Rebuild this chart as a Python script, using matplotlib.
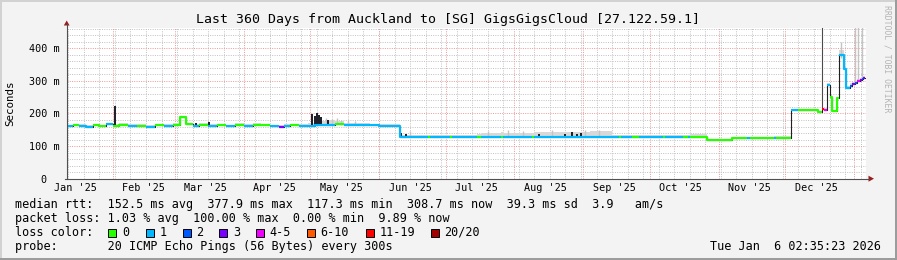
import matplotlib
matplotlib.use('Agg')
import matplotlib.pyplot as plt
import matplotlib.dates as mdates
from matplotlib.lines import Line2D
from matplotlib.patches import Rectangle, Polygon
import numpy as np
from datetime import datetime, timedelta

MONO = 'DejaVu Sans Mono'
plt.rcParams['font.family'] = [MONO]

# ---------------- data ----------------
title = 'Last 360 Days from Auckland to [SG] GigsGigsCloud [27.122.59.1]'
period_start = datetime(2025, 1, 11, 10, 0)
period_end = datetime(2026, 1, 6, 10, 0)
data_end = datetime(2026, 1, 6, 2, 35)

month_ticks = ['2025-01-15', '2025-02-15', '2025-03-15', '2025-04-15', '2025-05-15', '2025-06-15',
               '2025-07-15', '2025-08-15', '2025-09-15', '2025-10-15', '2025-11-15', '2025-12-15']
month_labels = ["Jan '25", "Feb '25", "Mar '25", "Apr '25", "May '25", "Jun '25",
                "Jul '25", "Aug '25", "Sep '25", "Oct '25", "Nov '25", "Dec '25"]
ytick_values = [0, 100, 200, 300, 400]
ytick_labels = ['0  ', '100 m', '200 m', '300 m', '400 m']

loss_labels = ['0', '1', '2', '3', '4-5', '6-10', '11-19', '20/20']
loss_colors = ['#26ff00', '#00b8ff', '#0059ff', '#7a00ff', '#f000ff', '#ff5a00', '#ff0000', '#a10000']

# median RTT (ms), step-held from each date; loss class index; top of smoke (ms)
med_dates = ['2025-01-11T10', '2025-01-14', '2025-01-17', '2025-01-20', '2025-01-23', '2025-01-26',
             '2025-01-29', '2025-02-01', '2025-02-04', '2025-02-08', '2025-02-12', '2025-02-16',
             '2025-02-20', '2025-02-24', '2025-02-28', '2025-03-03T06', '2025-03-06', '2025-03-09',
             '2025-03-12', '2025-03-16', '2025-03-20', '2025-03-24', '2025-03-28', '2025-04-01',
             '2025-04-05', '2025-04-09', '2025-04-13', '2025-04-17', '2025-04-19', '2025-04-22',
             '2025-04-26', '2025-04-30', '2025-05-03', '2025-05-08', '2025-05-12', '2025-05-16',
             '2025-05-20', '2025-05-24', '2025-05-28', '2025-06-01', '2025-06-10T10', '2025-06-23',
             '2025-06-24', '2025-07-03', '2025-07-04', '2025-07-15', '2025-07-17', '2025-07-26',
             '2025-07-27', '2025-08-09', '2025-08-10', '2025-08-22', '2025-09-04', '2025-09-14',
             '2025-09-17', '2025-09-18', '2025-09-23', '2025-09-26', '2025-10-07', '2025-10-08',
             '2025-10-15T22', '2025-10-18', '2025-10-19', '2025-10-27', '2025-11-07', '2025-11-14',
             '2025-11-15', '2025-11-26', '2025-11-27', '2025-12-03T16', '2025-12-07', '2025-12-15T18',
             '2025-12-17T12', '2025-12-18T12', '2025-12-19T16', '2025-12-21T04', '2025-12-22',
             '2025-12-24T12', '2025-12-25T10', '2025-12-27T12', '2025-12-28T10', '2025-12-30T06',
             '2025-12-31T06', '2026-01-01T12', '2026-01-02T12', '2026-01-03T12', '2026-01-04T12',
             '2026-01-05T06']
med_ms = [161, 164, 162, 160, 164, 161,
          167, 162, 165, 161, 163, 160,
          164, 162, 165, 190, 168, 163,
          165, 162, 164, 161, 165, 163,
          166, 164, 161, 159, 162, 164,
          161, 163, 166, 165, 167, 164,
          165, 166, 165, 163, 129, 129,
          129, 129, 129, 129, 129, 129,
          129, 129, 129, 129, 129, 129,
          129, 129, 129, 129, 129, 129,
          129, 129, 129, 120, 124.5, 124.5,
          124.5, 124.5, 124.5, 210, 210, 204,
          213, 212, 287, 252, 207,
          248, 378, 335, 279, 284,
          289, 293, 299, 303, 306,
          309]
med_loss = [1, 0, 1, 1, 0, 0,
            1, 0, 0, 1, 0, 1,
            0, 1, 0, 0, 0, 1,
            0, 1, 0, 1, 0, 1,
            0, 0, 1, 3, 1, 0,
            1, 1, 1, 1, 0, 1,
            1, 1, 1, 1, 1, 0,
            1, 0, 1, 0, 1, 0,
            1, 0, 1, 1, 1, 1,
            0, 1, 0, 1, 0, 1,
            0, 1, 0, 0, 0, 1,
            0, 1, 0, 1, 0, 0,
            6, 4, 1, 0, 0,
            0, 1, 1, 1, 2,
            3, 2, 4, 3, 2,
            3]
smoke_ms = [166, 169, 167, 165, 168, 166,
            172, 168, 170, 167, 169, 166,
            169, 168, 170, 193, 172, 168,
            170, 167, 169, 166, 170, 168,
            171, 169, 166, 164, 167, 169,
            167, 172, 178, 180, 178, 172,
            170, 170, 169, 168, 133, 133,
            133, 134, 134, 136, 140, 142,
            141, 140, 142, 143, 145, 134,
            134, 133, 133, 133, 133, 133,
            135, 135, 136, 123, 128, 128,
            128, 130, 130, 214, 214, 208,
            218, 216, 292, 256, 211,
            252, 395, 345, 285, 292,
            296, 300, 306, 309, 312,
            315]

# isolated smoke spikes: date, bottom (ms), top (ms), shade
spike_dates = ['2025-02-02', '2025-03-10T12', '2025-03-16T10', '2025-05-02', '2025-05-03', '2025-05-04',
               '2025-05-05', '2025-05-06', '2025-05-08', '2025-05-09', '2025-05-11', '2025-05-13',
               '2025-05-15', '2025-05-18', '2025-05-21', '2025-06-11', '2025-06-13', '2025-06-15',
               '2025-07-20', '2025-07-29', '2025-08-05', '2025-08-18', '2025-09-02', '2025-09-08',
               '2025-08-12', '2025-08-24', '2025-08-27', '2025-08-29', '2025-08-31',
               '2025-12-17T18', '2025-12-26', '2026-01-01T12', '2026-01-03', '2026-01-04T18']
spike_lo = [162, 165, 162, 166, 166, 166,
            166, 166, 165, 165, 166, 167,
            164, 165, 165, 129, 129, 129,
            129, 129, 129, 129, 129, 129,
            129, 129, 129, 129, 129,
            213, 370, 293, 303, 306]
spike_hi = [222, 171, 175, 197, 192, 200,
            194, 188, 187, 181, 184, 186,
            181, 179, 177, 141, 138, 145,
            146, 148, 147, 149, 150, 148,
            136, 138, 142, 136, 140,
            470, 420, 470, 470, 470]
spike_shade = ['dark', 'dark', 'dark', 'dark', 'dark', 'dark',
               'dark', 'dark', 'light', 'dark', 'light', 'light',
               'light', 'light', 'light', 'dark', 'dark', 'light',
               'light', 'light', 'light', 'light', 'light', 'light',
               'dark', 'dark', 'dark', 'dark', 'dark',
               'mid', 'light', 'light', 'light', 'light']

legend_rtt = 'median rtt:  152.5 ms avg  377.9 ms max  117.3 ms min  308.7 ms now  39.3 ms sd  3.9   am/s'
legend_loss = 'packet loss: 1.03 % avg  100.00 % max  0.00 % min  9.89 % now'
legend_color = 'loss color:'
legend_probe = 'probe:       20 ICMP Echo Pings (56 Bytes) every 300s'
stamp = 'Tue Jan  6 02:35:23 2026'
ylabel = 'Seconds'
watermark = 'RRDTOOL / TOBI OETIKER'

# ---------------- figure ----------------
W, H, DPI = 897, 260, 100
fig = plt.figure(figsize=(W / DPI, H / DPI), dpi=DPI)
fig.patch.set_facecolor('#f3f3f3')


def fx(x):
    return x / W


def fy(y):
    return 1 - y / H


L, R, T, B = 67, 866, 27.7, 178.7
ax = fig.add_axes([fx(L), fy(B), (R - L) / W, (B - T) / H])
ax.set_facecolor('white')
for s in ax.spines.values():
    s.set_visible(False)
ax.set_xlim(mdates.date2num(period_start), mdates.date2num(period_end))
ax.set_ylim(0, 463)

minor_c = '#c4c4c4'
major_c = '#ee9c9c'
dot = (0, (1, 1.3))
gl = 0.72
gkw = dict(lw=gl, ls=dot, antialiased=True)
d = datetime(2025, 1, 12)
while d < period_end:
    ax.axvline(mdates.date2num(d), color=minor_c, zorder=1, **gkw)
    d += timedelta(days=7)
for v in range(20, 463, 20):
    if v % 100:
        ax.axhline(v, color=minor_c, zorder=1, **gkw)
for v in ytick_values[1:]:
    ax.axhline(v, color=major_c, zorder=1.2, **gkw)
for y, m in [(2025, k) for k in range(2, 13)] + [(2026, 1)]:
    ax.axvline(mdates.date2num(datetime(y, m, 1)), color=major_c, zorder=1.2, **gkw)

# ---- data ----
t = mdates.date2num([datetime.fromisoformat(s) for s in med_dates] + [data_end])
v = np.array(med_ms, dtype=float)
cls = np.array(med_loss)
sm = np.array(smoke_ms, dtype=float)
xs = np.repeat(t, 2)[1:-1]
ys = np.repeat(v, 2)
ax.fill_between(xs, ys, np.repeat(sm, 2), color='#d8d8d8', lw=0, zorder=2)

shade_col = {'dark': '#1c1c26', 'mid': '#4a4a4a', 'light': '#c4c4c4'}
shade_lw = {'dark': 1.4, 'mid': 0.8, 'light': 1.0}
for ds, lo, hi, sh in zip(spike_dates, spike_lo, spike_hi, spike_shade):
    xd = mdates.date2num(datetime.fromisoformat(ds))
    ax.vlines(xd, lo, hi, color=shade_col[sh], lw=shade_lw[sh], zorder=2.5)

ax.plot(xs, ys, color='#202020', lw=0.8, zorder=3)
for c, col in enumerate(loss_colors):
    yc = np.where(cls == c, v, np.nan)
    if np.all(np.isnan(yc)):
        continue
    ax.plot(xs, np.repeat(yc, 2), color=col, lw=1.55, zorder=4, solid_capstyle='butt')

# ticks
ax.set_xticks(mdates.date2num([datetime.fromisoformat(s) for s in month_ticks]))
ax.set_xticklabels(month_labels)
ax.set_yticks(ytick_values)
ax.set_yticklabels(ytick_labels)
ax.tick_params(axis='both', length=0, labelsize=7.3, colors='black')
ax.tick_params(axis='y', pad=5.2)
ax.tick_params(axis='x', pad=3.2)
for lab in ax.get_xticklabels() + ax.get_yticklabels():
    lab.set_family(MONO)

# axes lines with arrows
axis_c = '#505050'
arrow_c = '#9b1c1c'
fig.add_artist(Line2D([fx(66.5), fx(66.5)], [fy(179.2), fy(24)], color=axis_c, lw=0.8))
fig.add_artist(Line2D([fx(64.5), fx(869)], [fy(178.7), fy(178.7)], color=axis_c, lw=0.8))
fig.add_artist(Polygon([[fx(63.8), fy(25.5)], [fx(69.6), fy(25.5)], [fx(66.7), fy(20.5)]],
                       closed=True, color=arrow_c, lw=0))
fig.add_artist(Polygon([[fx(868.5), fy(175.7)], [fx(868.5), fy(181.7)], [fx(874), fy(178.7)]],
                       closed=True, color=arrow_c, lw=0))

# border (3d frame)
fig.add_artist(Rectangle((0, fy(2)), 1, 2 / H, color='#d2d2d2', lw=0))
fig.add_artist(Rectangle((0, 0), 2 / W, 1, color='#d2d2d2', lw=0))
fig.add_artist(Rectangle((0, 0), 1, 2.5 / H, color='#9c9c9c', lw=0))
fig.add_artist(Rectangle((1 - 2.5 / W, 0), 2.5 / W, 1, color='#9c9c9c', lw=0))

# texts
fig.text(fx(448), fy(19.2), title, ha='center', va='center', fontsize=9.5, family=MONO)
fig.text(fx(10.5), fy(103), ylabel, rotation=90, ha='center', va='center', fontsize=7.8, family=MONO)
fig.text(fx(887), fy(59), watermark, rotation=-90, ha='center', va='center', fontsize=5.9,
         family=MONO, color='#b4b4b4')

LX = 14.6
fs = 8.5
fig.text(fx(LX), fy(204.3), legend_rtt, ha='left', va='center', fontsize=fs, family=MONO)
fig.text(fx(LX), fy(218.3), legend_loss, ha='left', va='center', fontsize=fs, family=MONO)
fig.text(fx(LX), fy(232.3), legend_color, ha='left', va='center', fontsize=fs, family=MONO)
fig.text(fx(LX), fy(246.2), legend_probe, ha='left', va='center', fontsize=fs, family=MONO)
fig.text(fx(881), fy(246.2), stamp, ha='right', va='center', fontsize=fs, family=MONO)

box_x = [108.3, 145.7, 182.7, 219.3, 256, 306.7, 365.7, 430.7]
for bx, lab, col in zip(box_x, loss_labels, loss_colors):
    fig.add_artist(Rectangle((fx(bx), fy(236.5)), 8 / W, 8 / H, facecolor=col,
                             edgecolor='black', lw=0.7))
    fig.text(fx(bx + 13.8), fy(232.3), lab, ha='left', va='center', fontsize=fs, family=MONO)

fig.savefig('out.png', dpi=DPI, facecolor=fig.get_facecolor())
